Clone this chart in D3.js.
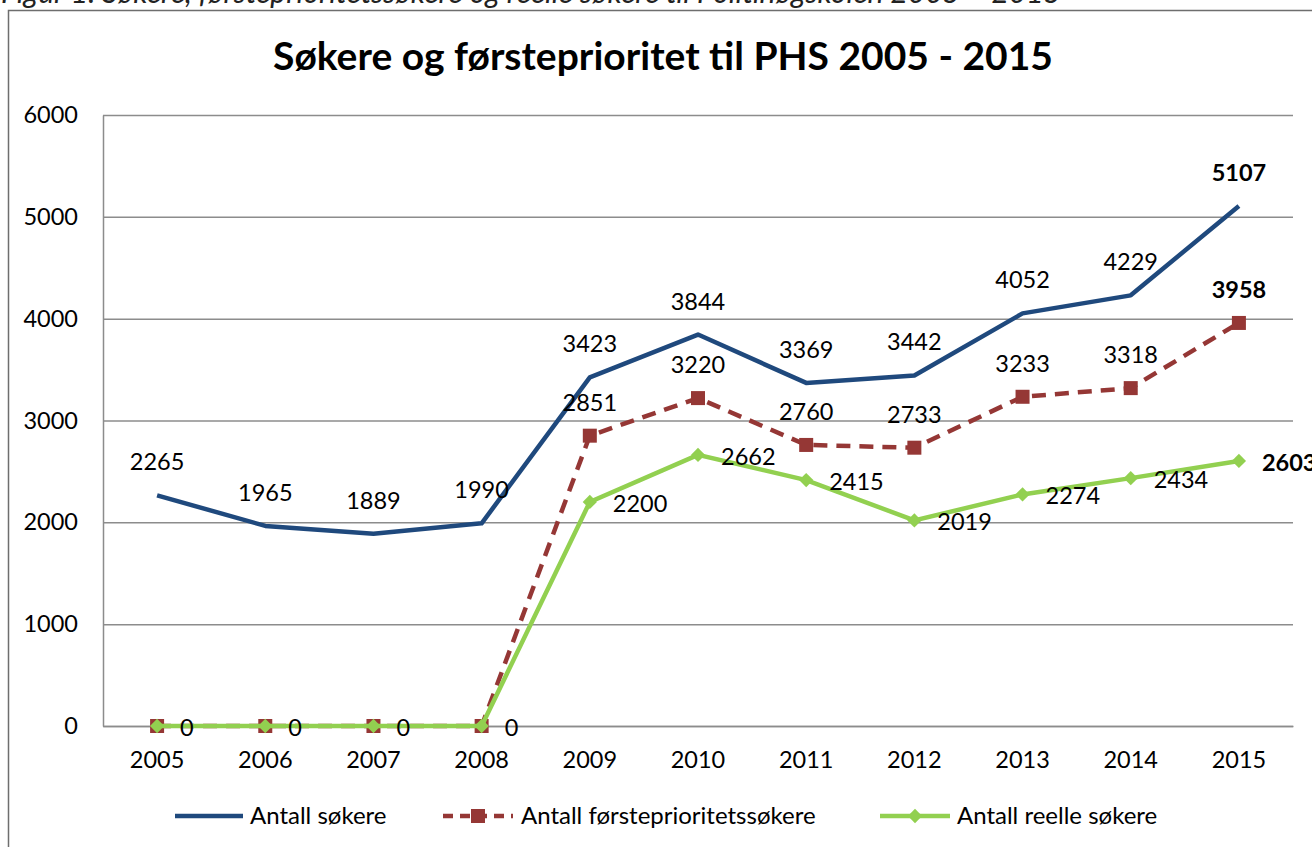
<!DOCTYPE html>
<html>
<head>
<meta charset="utf-8">
<script src="https://d3js.org/d3.v7.min.js"></script>
<style>
    body { margin: 0; background: #fff; }
    svg { font-family: Lato, "Open Sans", sans-serif; }
</style>
</head>
<body>
<div id="chart"></div>
<script>
// data
const years = ["2005", "2006", "2007", "2008", "2009", "2010", "2011", "2012", "2013", "2014", "2015"];
const antallSokere = [2265, 1965, 1889, 1990, 3423, 3844, 3369, 3442, 4052, 4229, 5107];
const forsteprioritet = [0, 0, 0, 0, 2851, 3220, 2760, 2733, 3233, 3318, 3958];
const reelleSokere = [0, 0, 0, 0, 2200, 2662, 2415, 2019, 2274, 2434, 2603];
const yTicks = [0, 1000, 2000, 3000, 4000, 5000, 6000];

const seriesNames = ["Antall søkere", "Antall førsteprioritetssøkere", "Antall reelle søkere"];

const W = 1312, H = 847;
const margin = { top: 115, right: 19, bottom: 121, left: 103 };
const width = W - margin.left - margin.right,
    height = H - margin.top - margin.bottom;

const fs = 23.5; // label font size

let svg = d3.select("#chart").append("svg")
    .attr("width", W)
    .attr("height", H);

// caption (cut off at top in the original)
svg.append("text")
    .attr("x", 1)
    .attr("y", 3)
    .attr("font-size", 30)
    .attr("font-style", "italic")
    .attr("fill", "#222")
    .text("Figur 1: Søkere, førsteprioritetssøkere og reelle søkere til Politihøgskolen 2005 – 2015");

// outer chart border
svg.append("rect")
    .attr("x", 8.5).attr("y", 10.5)
    .attr("width", W + 20).attr("height", H + 20)
    .attr("fill", "none")
    .attr("stroke", "#6e6e6e")
    .attr("stroke-width", 1.5);

// title
svg.append("text")
    .attr("x", 663)
    .attr("y", 70)
    .attr("text-anchor", "middle")
    .attr("font-size", 39)
    .attr("font-weight", "bold")
    .text("Søkere og førsteprioritet til PHS 2005 - 2015");

let g = svg.append("g")
    .attr("transform", "translate(" + margin.left + "," + margin.top + ")");

// scales
let x = d3.scaleBand()
    .domain(years)
    .range([0, width]);

let y = d3.scaleLinear()
    .domain([0, 6000])
    .range([height, 0]);

let cx = d => x(d) + x.bandwidth() / 2;

// gridlines
g.append("g")
    .attr("class", "grid")
    .call(d3.axisRight(y).tickValues(yTicks).tickSize(width).tickFormat(""))
    .call(s => s.select(".domain").remove())
    .selectAll("line")
    .attr("stroke", "#8c8c8c")
    .attr("stroke-width", 1.5);

// y axis
let yAxis = g.append("g")
    .call(d3.axisLeft(y).tickValues(yTicks).tickFormat(d3.format("d")).tickSize(0).tickPadding(25));
yAxis.select(".domain").attr("stroke", "#8c8c8c").attr("stroke-width", 1.5);
yAxis.selectAll("text").attr("font-size", fs).attr("font-family", "Lato, sans-serif").attr("fill", "#000");

// x axis
let xAxis = g.append("g")
    .attr("transform", "translate(0," + height + ")")
    .call(d3.axisBottom(x).tickSize(0).tickPadding(25));
xAxis.select(".domain").attr("stroke", "#8c8c8c").attr("stroke-width", 1.5);
xAxis.selectAll("text").attr("font-size", fs).attr("font-family", "Lato, sans-serif").attr("fill", "#000");

let line = d3.line()
    .x((d, i) => cx(years[i]))
    .y(d => y(d));

// series 1
g.append("path")
    .datum(antallSokere)
    .attr("d", line)
    .attr("fill", "none")
    .attr("stroke", "#1f497d")
    .attr("stroke-width", 4.5)
    .attr("stroke-linejoin", "round");

// series 2
g.append("path")
    .datum(forsteprioritet)
    .attr("d", line)
    .attr("fill", "none")
    .attr("stroke", "#953735")
    .attr("stroke-width", 4.5)
    .attr("stroke-dasharray", "14,9");

g.selectAll(".sq")
    .data(forsteprioritet)
    .enter().append("rect")
    .attr("class", "sq")
    .attr("x", (d, i) => cx(years[i]) - 7)
    .attr("y", d => y(d) - 7)
    .attr("width", 14).attr("height", 14)
    .attr("fill", "#953735");

// series 3
g.append("path")
    .datum(reelleSokere)
    .attr("d", line)
    .attr("fill", "none")
    .attr("stroke", "#92d050")
    .attr("stroke-width", 4.5);

let diamond = d3.symbol().type(d3.symbolDiamond2).size(130);
g.selectAll(".dia")
    .data(reelleSokere)
    .enter().append("path")
    .attr("class", "dia")
    .attr("d", diamond)
    .attr("transform", (d, i) => "translate(" + cx(years[i]) + "," + y(d) + ")")
    .attr("fill", "#92d050");

// data labels
let last = years.length - 1;

g.selectAll(".lab1")
    .data(antallSokere)
    .enter().append("text")
    .attr("x", (d, i) => cx(years[i]))
    .attr("y", d => y(d) - 25)
    .attr("text-anchor", "middle")
    .attr("font-size", fs)
    .attr("font-weight", (d, i) => i === last ? "bold" : "normal")
    .text(d => d);

g.selectAll(".lab2")
    .data(forsteprioritet.map((v, i) => ({ v, i })).filter(d => d.v > 0))
    .enter().append("text")
    .attr("x", d => cx(years[d.i]))
    .attr("y", d => y(d.v) - 25)
    .attr("text-anchor", "middle")
    .attr("font-size", fs)
    .attr("font-weight", d => d.i === last ? "bold" : "normal")
    .text(d => d.v);

g.selectAll(".lab3")
    .data(reelleSokere)
    .enter().append("text")
    .attr("x", (d, i) => cx(years[i]) + 23)
    .attr("y", d => y(d) + 10)
    .attr("text-anchor", "start")
    .attr("font-size", fs)
    .attr("font-weight", (d, i) => i === last ? "bold" : "normal")
    .text(d => d);

// legend
let legendY = 816;
let legend = svg.append("g");

legend.append("line")
    .attr("x1", 175).attr("x2", 243)
    .attr("y1", legendY).attr("y2", legendY)
    .attr("stroke", "#1f497d").attr("stroke-width", 4.5);
legend.append("text")
    .attr("x", 250).attr("y", legendY + 8)
    .attr("font-size", 24).text(seriesNames[0]);

legend.append("line")
    .attr("x1", 443).attr("x2", 513)
    .attr("y1", legendY).attr("y2", legendY)
    .attr("stroke", "#953735").attr("stroke-width", 4.5)
    .attr("stroke-dasharray", "10,7");
legend.append("rect")
    .attr("x", 471).attr("y", legendY - 7)
    .attr("width", 14).attr("height", 14)
    .attr("fill", "#953735");
legend.append("text")
    .attr("x", 521).attr("y", legendY + 8)
    .attr("font-size", 24).text(seriesNames[1]);

legend.append("line")
    .attr("x1", 880).attr("x2", 950)
    .attr("y1", legendY).attr("y2", legendY)
    .attr("stroke", "#92d050").attr("stroke-width", 4.5);
legend.append("path")
    .attr("d", diamond)
    .attr("transform", "translate(915," + legendY + ")")
    .attr("fill", "#92d050");
legend.append("text")
    .attr("x", 957).attr("y", legendY + 8)
    .attr("font-size", 24).text(seriesNames[2]);
</script>
</body>
</html>
